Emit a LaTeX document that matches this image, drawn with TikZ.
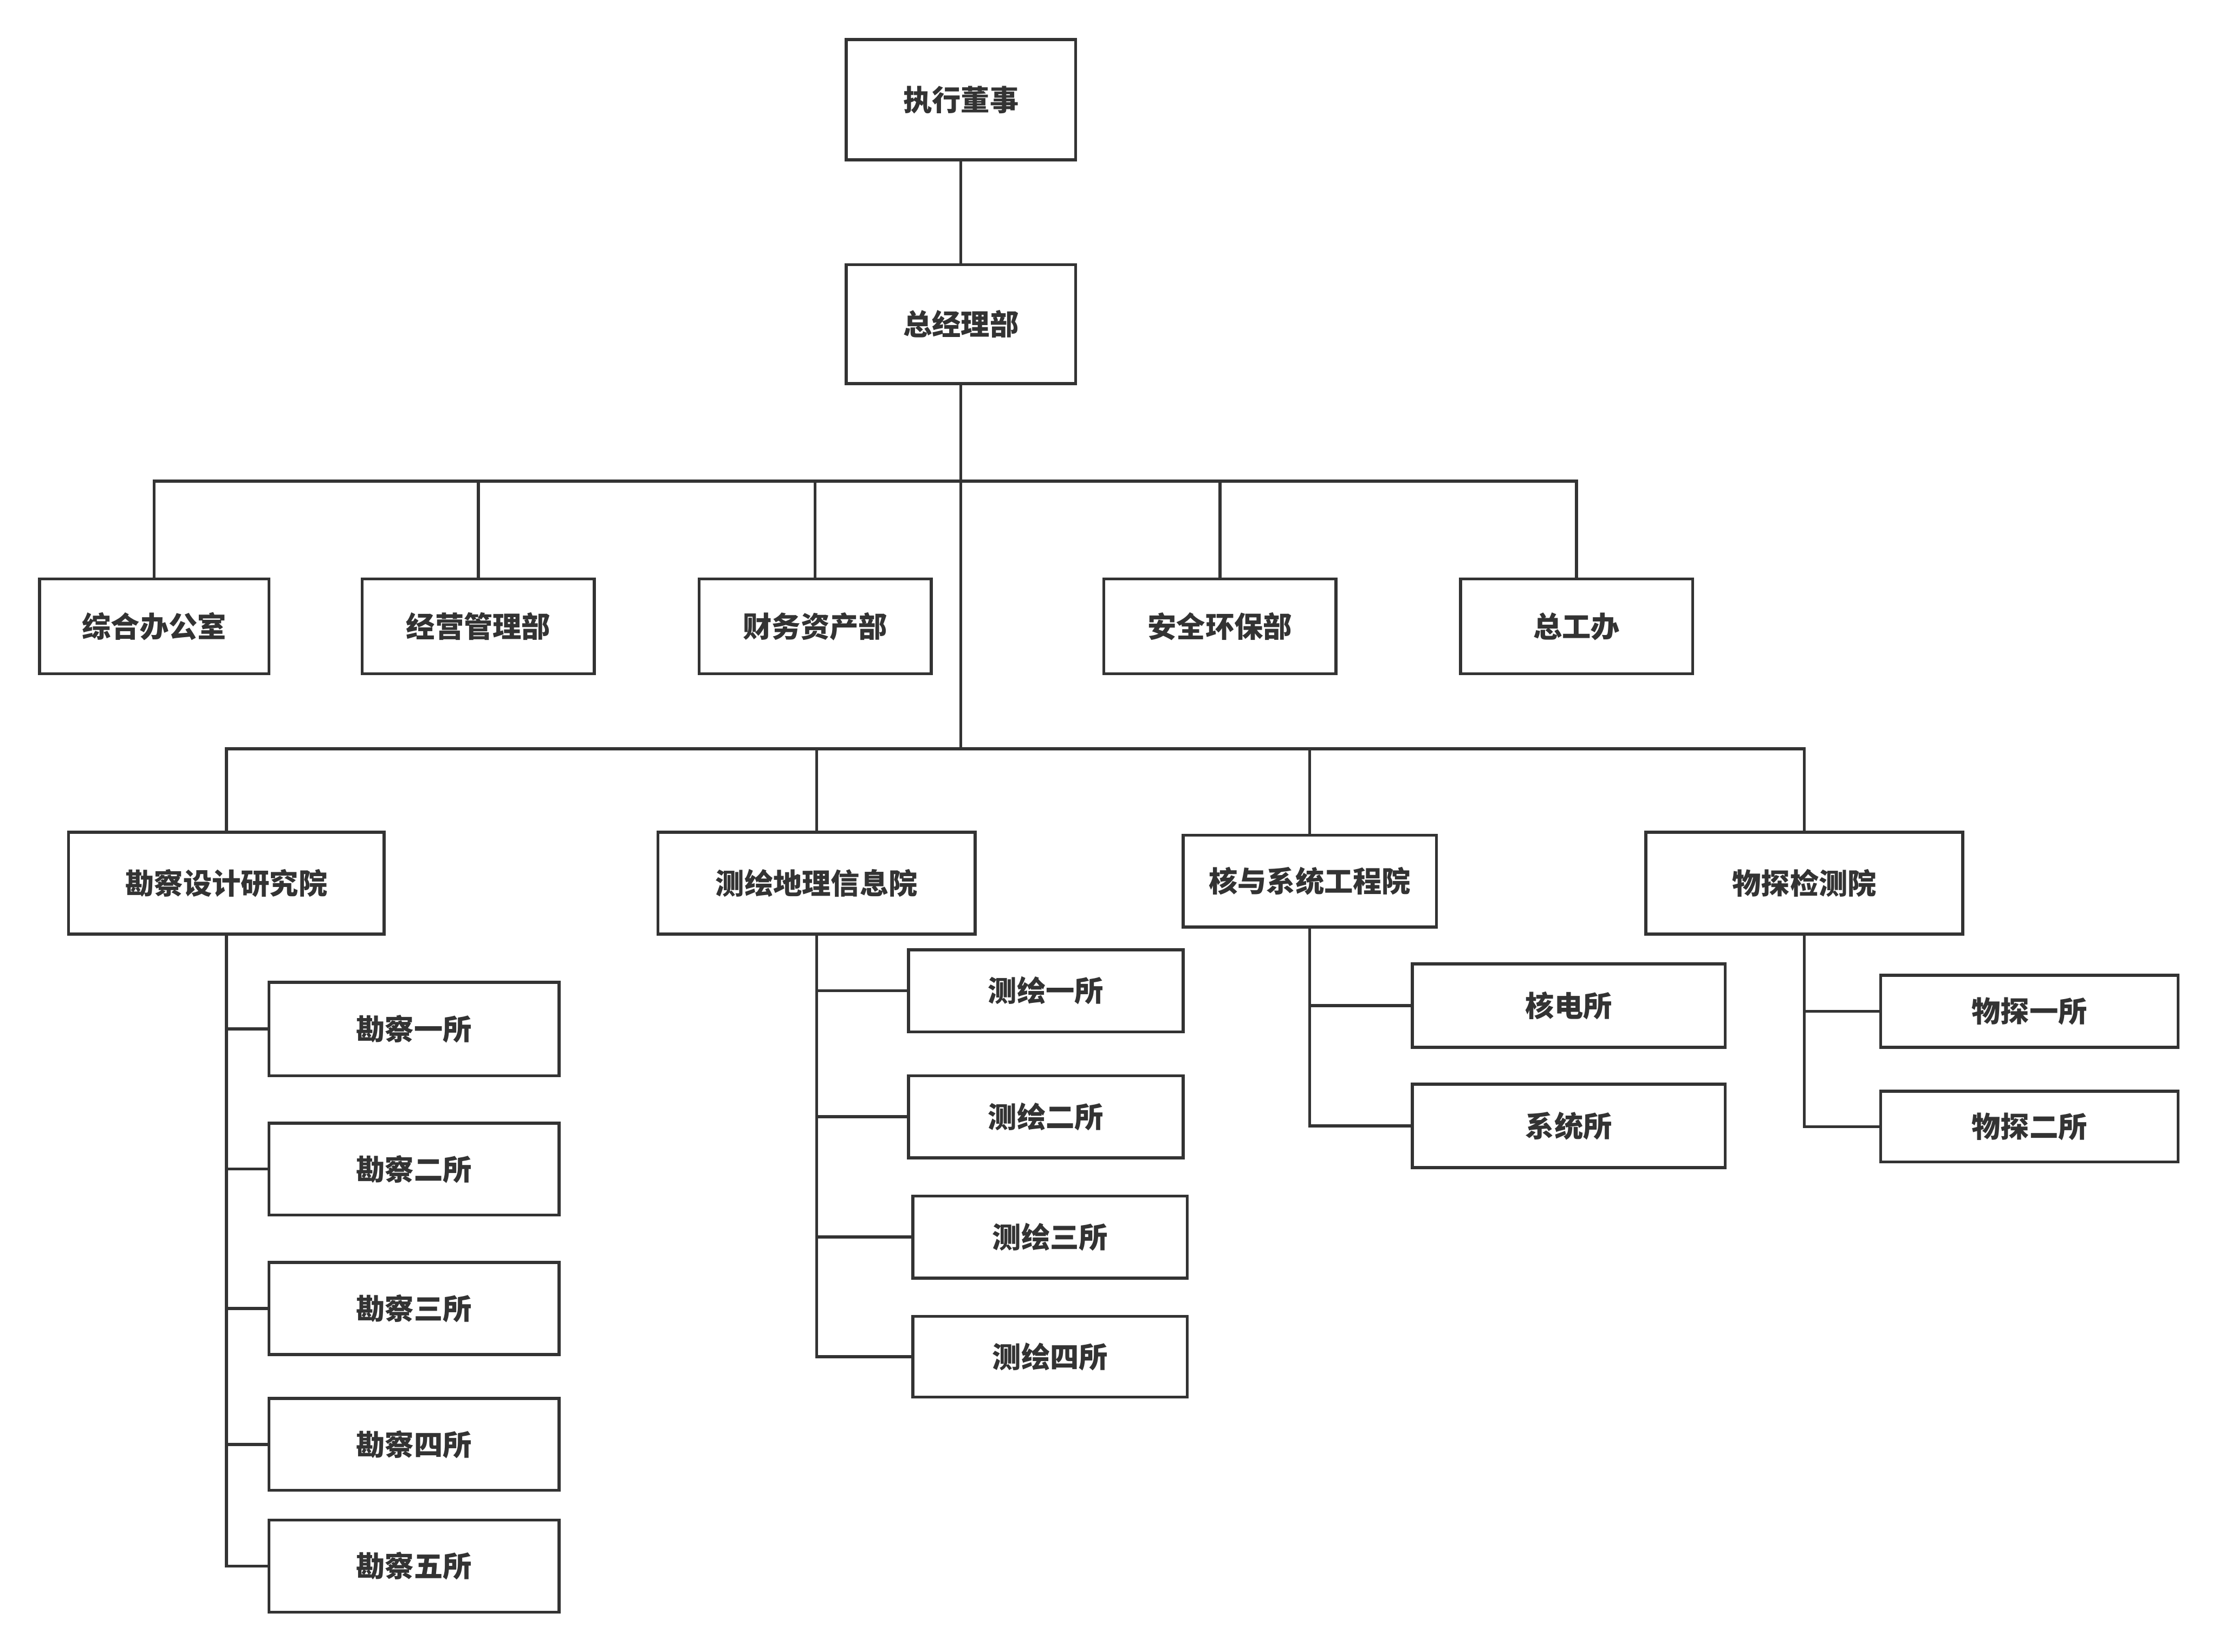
\documentclass[tikz,border=0pt]{standalone}
\usepackage{fontspec}
\setmainfont{Noto Sans CJK SC}
\definecolor{ink}{HTML}{333333}
\newcommand\orgbox[6]{\node[box, minimum width=#4*0.5pt, minimum height=#5*0.5pt] (#1) at (#2,#3) {\raisebox{-0.6pt}{#6}};}
\begin{document}
\begin{tikzpicture}[x=0.5pt,y=-0.5pt,
  box/.style={draw=ink, line width=1.05pt, fill=white, inner sep=0pt, text=ink, font=\bfseries\fontsize{10.2}{12}\selectfont},
  conn/.style={draw=ink, line width=1.05pt}]
\useasboundingbox[fill=white] (0,0) rectangle (1568,1167);
% top
\orgbox{ex}{679}{70.5}{162}{85}{执行董事}
\orgbox{gm}{679}{229}{162}{84}{总经理部}
% departments
\orgbox{zh}{109}{442.5}{162}{67}{综合办公室}
\orgbox{jy}{338}{442.5}{164}{67}{经营管理部}
\orgbox{cw}{576}{442.5}{164}{67}{财务资产部}
\orgbox{aq}{862}{442.5}{164}{67}{安全环保部}
\orgbox{zg}{1114}{442.5}{164}{67}{总工办}
% institutes
\orgbox{kc}{160}{624}{223}{72}{勘察设计研究院}
\orgbox{ch}{577}{624}{224}{72}{测绘地理信息院}
\orgbox{he}{925.5}{622.5}{179}{65}{核与系统工程院}
\orgbox{wt}{1275}{624}{224}{72}{物探检测院}
% sub units
\orgbox{kc1}{292.5}{727}{205}{66}{勘察一所}
\orgbox{kc2}{292.5}{826}{205}{65}{勘察二所}
\orgbox{kc3}{292.5}{924.5}{205}{65}{勘察三所}
\orgbox{kc4}{292.5}{1020.5}{205}{65}{勘察四所}
\orgbox{kc5}{292.5}{1106.5}{205}{65}{勘察五所}
\orgbox{ch1}{739}{700}{194}{58}{测绘一所}
\orgbox{ch2}{739}{789}{194}{58}{测绘二所}
\orgbox{ch3}{742}{874}{194}{58}{测绘三所}
\orgbox{ch4}{742}{958.5}{194}{57}{测绘四所}
\orgbox{he1}{1108.5}{710.5}{221}{59}{核电所}
\orgbox{he2}{1108.5}{795.5}{221}{59}{系统所}
\orgbox{wt1}{1434}{714.5}{210}{51}{物探一所}
\orgbox{wt2}{1434}{796}{210}{50}{物探二所}
% connectors
\coordinate (b1) at (679,340);
\coordinate (b2) at (679,529);
\draw[conn] (ex) -- (gm);
\draw[conn] (gm.south) -- (b2);
\foreach \n in {zh,jy,cw,aq,zg} \draw[conn] (b1) -| (\n.north);
\foreach \n in {kc,ch,he,wt} \draw[conn] (b2) -| (\n.north);
\draw[conn] (kc.south) |- (kc5.west);
\foreach \i in {1,2,3,4} \draw[conn] (kc.south |- kc\i.west) -- (kc\i.west);
\draw[conn] (ch.south) |- (ch4.west);
\foreach \i in {1,2,3} \draw[conn] (ch.south |- ch\i.west) -- (ch\i.west);
\draw[conn] (he.south) |- (he2.west);
\draw[conn] (he.south |- he1.west) -- (he1.west);
\draw[conn] (wt.south) |- (wt2.west);
\draw[conn] (wt.south |- wt1.west) -- (wt1.west);
\end{tikzpicture}
\end{document}
